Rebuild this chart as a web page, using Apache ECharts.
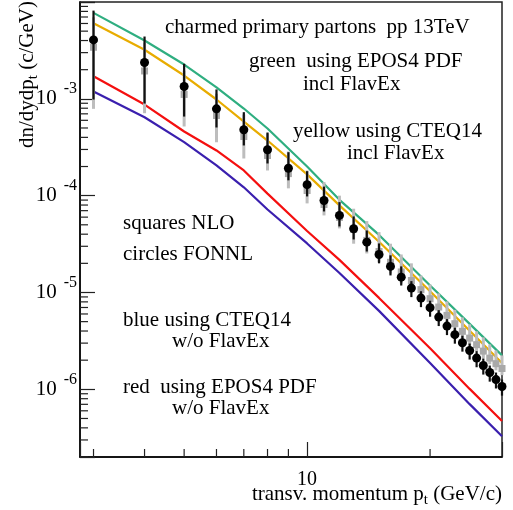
<!DOCTYPE html>
<html>
<head>
<meta charset="utf-8">
<script src="https://cdn.jsdelivr.net/npm/echarts@6/dist/echarts.min.js"></script>
<style>
  html, body { margin: 0; padding: 0; background: #fff; }
  #chart { width: 513px; height: 510px; }
</style>
</head>
<body>
<div id="chart"></div>
<script>
// pt bins of the points (GeV/c)
var pt = [3,4,5,6,7,8,9,10,11,12,13,14,15,16,17,18,19,20,21,22,23,24,25,26,27,28,29,30];
// circles FONNL, with error band
var fonnl   = [4.06e-3,2.37e-3,1.34e-3,7.88e-4,4.79e-4,2.98e-4,1.92e-4,1.30e-4,8.91e-5,6.25e-5,4.55e-5,3.31e-5,2.47e-5,1.86e-5,1.44e-5,1.11e-5,8.75e-6,6.97e-6,5.57e-6,4.50e-6,3.67e-6,3.03e-6,2.52e-6,2.10e-6,1.76e-6,1.49e-6,1.26e-6,1.07e-6];
var fonnlHi = [8.15e-3,4.40e-3,2.30e-3,1.25e-3,7.28e-4,4.49e-4,2.81e-4,1.79e-4,1.24e-4,8.57e-5,6.10e-5,4.37e-5,3.21e-5,2.42e-5,1.86e-5,1.31e-5,1.03e-5,8.22e-6,6.57e-6,5.31e-6,4.33e-6,3.58e-6,2.97e-6,2.48e-6,2.08e-6,1.76e-6,1.49e-6,1.26e-6];
var fonnlLo = [9.84e-4,8.94e-4,6.56e-4,5.06e-4,3.30e-4,2.15e-4,1.44e-4,9.82e-5,6.87e-5,4.81e-5,3.53e-5,2.65e-5,2.00e-5,1.50e-5,1.18e-5,8.96e-6,7.06e-6,5.62e-6,4.50e-6,3.63e-6,2.96e-6,2.45e-6,2.03e-6,1.69e-6,1.42e-6,1.20e-6,1.02e-6,8.6e-7];
// squares NLO, with error band
var nlo   = [3.41e-3,1.94e-3,1.11e-3,6.73e-4,4.08e-4,2.60e-4,1.69e-4,1.13e-4,8.11e-5,5.96e-5,4.48e-5,3.45e-5,2.65e-5,2.05e-5,1.63e-5,1.33e-5,1.07e-5,8.63e-6,7.07e-6,5.80e-6,4.76e-6,3.97e-6,3.38e-6,2.89e-6,2.48e-6,2.10e-6,1.84e-6,1.64e-6];
var nloHi = [6.95e-3,3.81e-3,1.96e-3,1.13e-3,6.89e-4,4.39e-4,2.86e-4,1.82e-4,1.38e-4,1.00e-4,7.33e-5,5.46e-5,4.20e-5,3.19e-5,2.47e-5,2.00e-5,1.50e-5,1.21e-5,9.80e-6,8.10e-6,6.61e-6,5.53e-6,4.69e-6,3.97e-6,3.44e-6,2.91e-6,2.52e-6,2.24e-6];
var nloLo = [7.88e-4,7.10e-4,5.18e-4,3.56e-4,2.42e-4,1.82e-4,1.19e-4,8.32e-5,6.25e-5,4.59e-5,3.19e-5,2.53e-5,2.05e-5,1.57e-5,1.24e-5,1.03e-5,8.49e-6,7.02e-6,5.80e-6,4.80e-6,3.97e-6,3.37e-6,2.85e-6,2.47e-6,2.09e-6,1.82e-6,1.57e-6,1.40e-6];
// model curves
var curvePt = [3,4,5,6,7,8,10,12,15,20,25,30];
var greenEpos  = [7.72e-3,4.0e-3,2.26e-3,1.31e-3,7.94e-4,4.94e-4,2.0e-4,9.05e-5,3.93e-5,1.18e-5,4.74e-6,2.24e-6];
var yellowCteq = [6.03e-3,3.21e-3,1.74e-3,9.84e-4,5.83e-4,3.71e-4,1.66e-4,7.93e-5,3.34e-5,1.03e-5,4.03e-6,1.87e-6];
var redEpos    = [1.71e-3,8.73e-4,4.60e-4,2.93e-4,1.82e-4,1.05e-4,4.32e-5,2.17e-5,8.79e-6,2.65e-6,1.01e-6,4.71e-7];
var blueCteq   = [1.19e-3,6.46e-4,3.57e-4,2.05e-4,1.22e-4,7.2e-5,3.21e-5,1.59e-5,6.46e-6,1.87e-6,7.03e-7,3.27e-7];
// axis ticks
var xMinorTicks = [3,4,5,6,7,8,9,20];
var yMinorTicks = [];
[-7,-6,-5,-4,-3].forEach(function(k){
    for(var m=2;m<=9;m++){
        var v = m*Math.pow(10,k);
        if(v>=2e-7 && v<=1e-2) yMinorTicks.push(v);
    }
});

var FONT = '"Liberation Serif", "Times New Roman", serif';

function pairs(xs, ys){
    return xs.map(function(x,i){ return [x, ys[i]]; });
}
function bars(xs, lo, hi){
    return xs.map(function(x,i){ return [x, lo[i], hi[i]]; });
}
function barRender(color, width){
    return function(params, api){
        var a = api.coord([api.value(0), api.value(1)]);
        var b = api.coord([api.value(0), api.value(2)]);
        return {type:'line', shape:{x1:a[0], y1:a[1], x2:b[0], y2:b[1]}, style:{stroke:color, lineWidth:width}};
    };
}
function curve(name, data, color){
    return {name:name, type:'line', data:pairs(curvePt, data), symbol:'none', z:2,
        lineStyle:{color:color, width:2.2}};
}
function txt(x, y, s, align){
    return {type:'text', x:x, y:y, z:10, style:{text:s, font:'21px ' + FONT, fill:'#000',
        align:align || 'left', verticalAlign:'middle'}};
}

var option = {
    animation:false,
    grid:{left:80, top:2, right:11, bottom:53, show:true, borderColor:'#222', borderWidth:1.5,
        containLabel:false, outerBoundsMode:'none'},
    xAxis:{
        type:'log', logBase:10, min:2.78, max:30,
        axisLine:{onZero:false, lineStyle:{color:'#000', width:1.5}},
        axisTick:{inside:true, length:15, lineStyle:{color:'#222', width:1.2}},
        splitLine:{show:false},
        axisLabel:{margin:13, color:'#000', fontFamily:FONT, fontSize:20,
            formatter:function(v){ return Math.abs(v-10)<1e-6 ? '10' : ''; }}
    },
    yAxis:{
        type:'log', logBase:10, min:2e-7, max:1e-2,
        axisLine:{onZero:false, lineStyle:{color:'#000', width:1.5}},
        axisTick:{inside:true, length:15, lineStyle:{color:'#222', width:1.2}},
        splitLine:{show:false},
        axisLabel:{margin:3, color:'#000', fontFamily:FONT,
            formatter:function(v){
                var l = Math.log10(v), e = Math.round(l);
                if(Math.abs(l-e)>1e-6 || e>-3) return '';
                return '{b|10}{s|' + e + '}';
            },
            rich:{
                b:{fontFamily:FONT, fontSize:21, lineHeight:36, color:'#000'},
                s:{fontFamily:FONT, fontSize:16, lineHeight:16, verticalAlign:'top', padding:[0,0,0,7], color:'#000'}
            }
        }
    },
    series:[
        curve('green EPOS4 incl FlavEx', greenEpos, '#2fae80'),
        curve('yellow CTEQ14 incl FlavEx', yellowCteq, '#e8ac00'),
        curve('red EPOS4 w/o FlavEx', redEpos, '#f40f0f'),
        curve('blue CTEQ14 w/o FlavEx', blueCteq, '#3a1fae'),
        {name:'NLO err', type:'custom', z:3, data:bars(pt, nloLo, nloHi), encode:{x:0, y:[1,2]},
            renderItem:barRender('#bdbdbd', 3)},
        {name:'NLO', type:'scatter', z:3, data:pairs(pt, nlo), symbol:'rect', symbolSize:7,
            itemStyle:{color:'#a9a9a9', opacity:1}},
        {name:'FONNL err', type:'custom', z:4, data:bars(pt, fonnlLo, fonnlHi), encode:{x:0, y:[1,2]},
            renderItem:barRender('#111', 2.2)},
        {name:'FONNL', type:'scatter', z:4, data:pairs(pt, fonnl), symbol:'circle', symbolSize:9,
            itemStyle:{color:'#000', opacity:1}},
        {name:'x minor', type:'custom', z:5, silent:true, clip:false,
            data:xMinorTicks.map(function(v){ return [v, 2e-7]; }), encode:{x:0, y:1},
            renderItem:function(params, api){
                var p = api.coord([api.value(0), api.value(1)]);
                var y0 = params.coordSys.y + params.coordSys.height;
                return {type:'line', shape:{x1:p[0], y1:y0, x2:p[0], y2:y0-8}, style:{stroke:'#222', lineWidth:1.2}};
            }},
        {name:'y minor', type:'custom', z:5, silent:true, clip:false,
            data:yMinorTicks.map(function(v){ return [2.78, v]; }), encode:{x:0, y:1},
            renderItem:function(params, api){
                var p = api.coord([api.value(0), api.value(1)]);
                var x0 = params.coordSys.x;
                return {type:'line', shape:{x1:x0, y1:p[1], x2:x0+8, y2:p[1]}, style:{stroke:'#222', lineWidth:1.2}};
            }}
    ],
    graphic:[
        txt(165, 27, 'charmed primary partons  pp 13TeV'),
        txt(249, 61, 'green  using EPOS4 PDF'),
        txt(303, 84, 'incl FlavEx'),
        txt(293, 131, 'yellow using CTEQ14'),
        txt(347, 153, 'incl FlavEx'),
        txt(123, 223, 'squares NLO'),
        txt(123, 254, 'circles FONNL'),
        txt(123, 320, 'blue using CTEQ14'),
        txt(172, 341, 'w/o FlavEx'),
        txt(123, 387, 'red  using EPOS4 PDF'),
        txt(172, 408, 'w/o FlavEx'),
        {type:'text', x:502, y:494, z:10, style:{text:'transv. momentum p{t|t} (GeV/c)', font:'21px ' + FONT,
            fill:'#000', align:'right', verticalAlign:'middle', lineHeight:28,
            rich:{t:{fontFamily:FONT, fontSize:15, lineHeight:14, verticalAlign:'bottom', fill:'#000'}}}},
        {type:'text', x:27, y:1, rotation:Math.PI/2, z:10, style:{text:'dn/dydp{t|t} (c/GeV)', font:'21px ' + FONT,
            fill:'#000', align:'right', verticalAlign:'middle', lineHeight:28,
            rich:{t:{fontFamily:FONT, fontSize:15, lineHeight:14, verticalAlign:'bottom', fill:'#000'}}}}
    ]
};

var myChart = echarts.init(document.getElementById('chart'));
myChart.setOption(option);
</script>
</body>
</html>
